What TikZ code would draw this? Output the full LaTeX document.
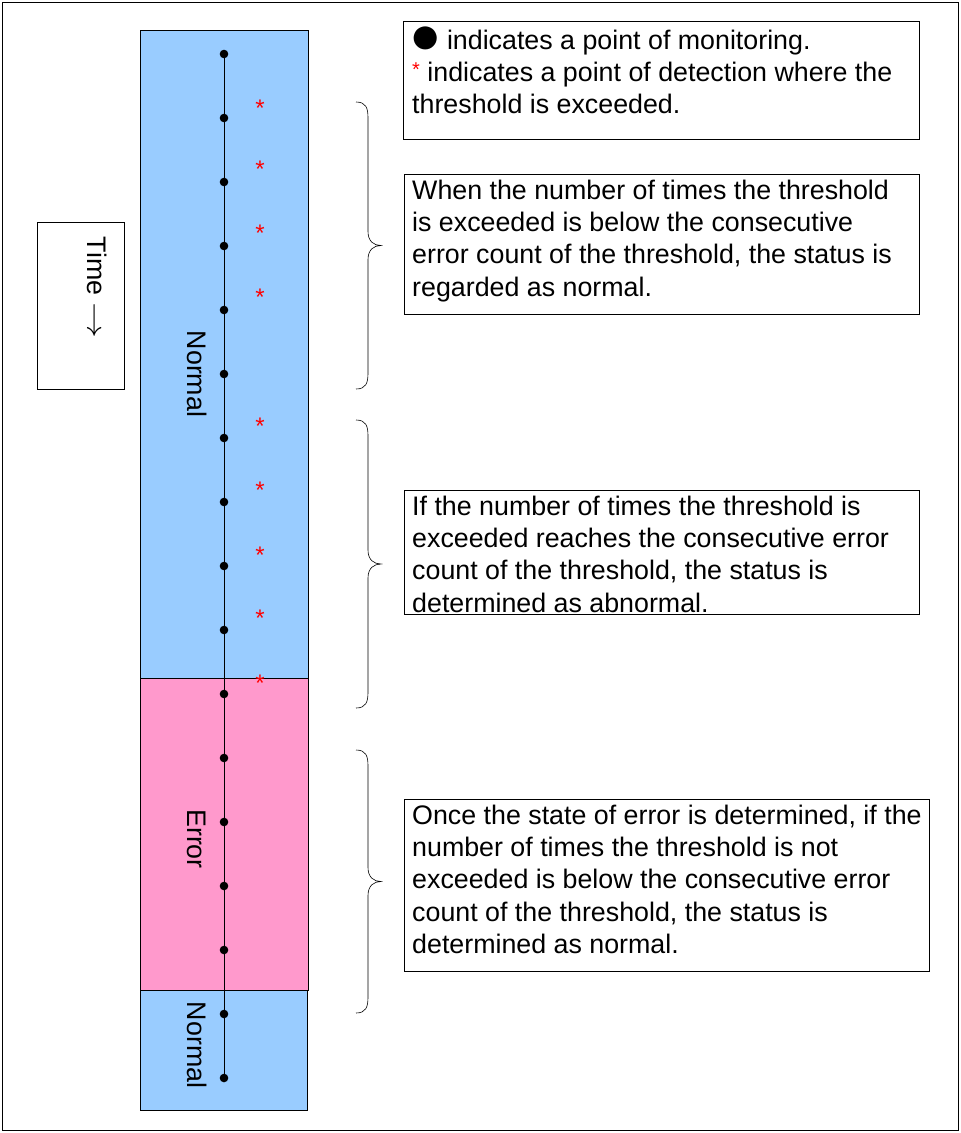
\documentclass[tikz,border=0pt]{standalone}
\usepackage{fontspec}
\setmainfont{Liberation Sans}
\definecolor{nblue}{HTML}{99CCFF}
\definecolor{epink}{HTML}{FF99CC}
\newcommand{\firstln}{\rule{0pt}{24pt}}
\begin{document}
\begin{tikzpicture}[x=1pt,y=-1pt,
  txt/.style={font=\fontsize{26.8}{32.3}\selectfont,anchor=north west,align=left,inner sep=0pt},
  tbox/.style={draw,line width=0.8pt,anchor=north west,inner sep=0pt},
  mdot/.style={circle,fill=black,inner sep=0pt,minimum width=8pt,minimum height=8.6pt},
  rstar/.style={text=red,font=\fontsize{24}{24}\selectfont,inner sep=0pt},
  vlab/.style={rotate=-90,font=\fontsize{26.8}{30}\selectfont},
  brc/.style={line width=0.6pt}]
\useasboundingbox (0,0) rectangle (961,1133);
\draw[line width=0.8pt] (2,2) rectangle (958,1130);
% state bars
\draw[fill=nblue,line width=0.8pt] (140,30) rectangle (308,678);
\draw[fill=epink,line width=0.8pt] (140,678) rectangle (308,990);
\draw[fill=nblue,line width=0.8pt] (140,990) rectangle (307,1110);
\node[vlab] (n1) at (197,374) {Normal};
\node[vlab] (er) at (197,839) {Error};
\node[vlab] (n2) at (197,1045) {Normal};
% monitoring line
\coordinate (top) at (224,54);
\coordinate (bot) at (224,1077);
\draw[line width=0.8pt] (top) -- (bot);
\foreach \i in {0,...,16}{
  \node[mdot] (d\i) at (224,54+64*\i) {};
}
\foreach \y [count=\k] in {105,166,230,294,423,487,552,615,680}{
  \node[rstar] (s\k) at (260,\y+3) {*};
}
% time box
\draw[line width=0.8pt] (37,222) rectangle (124,389);
\node[vlab] (time) at (97,288) {Time \scalebox{1.45}[1.1]{$\rightarrow$}};
% text boxes
\node[tbox,minimum width=516pt,minimum height=118pt] (leg) at (403,21) {};
\node[txt] (legt) at (412,25)
 {\firstln\hspace*{-3pt}\raisebox{-4pt}{\scalebox{2.0}{●}}\hspace{-2pt} indicates a point of monitoring.\\
  \textcolor{red}{\raisebox{5pt}{\fontsize{20}{20}\selectfont*}} indicates a point of detection where the\\
  threshold is exceeded.};
\node[tbox,minimum width=515pt,minimum height=140pt] (b1) at (404,174) {};
\node[txt] (b1t) at (412,175)
 {\firstln When the number of times the threshold\\
  is exceeded is below the consecutive\\
  error count of the threshold, the status is\\
  regarded as normal.};
\node[tbox,minimum width=515pt,minimum height=124pt] (b2) at (404,490) {};
\node[txt] (b2t) at (412,491)
 {\firstln If the number of times the threshold is\\
  exceeded reaches the consecutive error\\
  count of the threshold, the status is\\
  determined as abnormal.};
\node[tbox,minimum width=525pt,minimum height=172pt] (b3) at (404,799) {};
\node[txt] (b3t) at (412,800)
 {\firstln Once the state of error is determined, if the\\
  number of times the threshold is not\\
  exceeded is below the consecutive error\\
  count of the threshold, the status is\\
  determined as normal.};
% braces
\foreach \ya/\yb [count=\k] in {102/389, 420/708, 750/1013}{
  \pgfmathsetmacro{\ym}{(\ya+\yb)/2}
  \draw[brc] (356,\ya) .. controls (366,\ya) and (368,\ya+6) .. (368,\ya+16)
    -- (368,\ym-14) .. controls (368,\ym-4) and (374,\ym) .. (381,\ym)
    .. controls (374,\ym) and (368,\ym+4) .. (368,\ym+14)
    -- (368,\yb-16) .. controls (368,\yb-6) and (366,\yb) .. (356,\yb);
}
\end{tikzpicture}
\end{document}
